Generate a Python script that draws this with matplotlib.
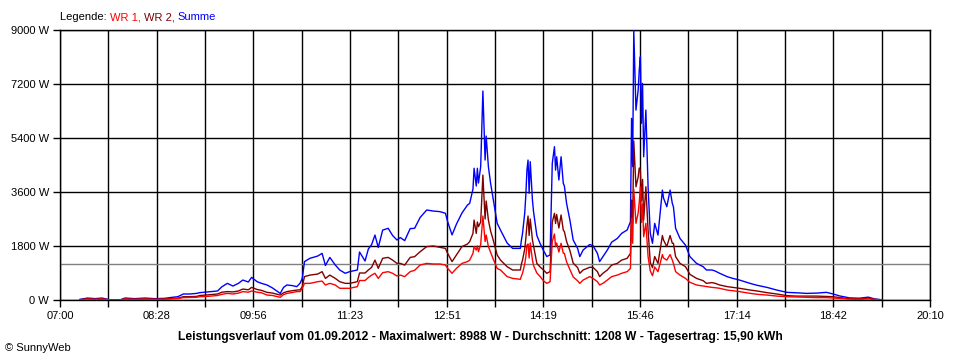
import matplotlib
matplotlib.use('Agg')
import matplotlib.pyplot as plt

# ── Daten ──
zeit = ['07:18', '07:25', '07:32', '07:38', '07:45', '07:55', '07:59', '08:08', '08:17', '08:26',
        '08:35', '08:42', '08:47', '08:52', '08:58', '09:04', '09:07', '09:14', '09:23', '09:27',
        '09:32', '09:37', '09:42', '09:46', '09:51', '09:54', '09:59', '10:03', '10:08', '10:13',
        '10:20', '10:23', '10:26', '10:31', '10:35', '10:38', '10:40', '10:42', '10:47', '10:54',
        '10:58', '11:01', '11:05', '11:10', '11:14', '11:19', '11:23', '11:30', '11:32', '11:37',
        '11:40', '11:43', '11:46', '11:49', '11:53', '11:58', '12:02', '12:06', '12:09', '12:13',
        '12:18', '12:22', '12:27', '12:33', '12:39', '12:45', '12:50', '12:52', '12:56', '13:00',
        '13:05', '13:10', '13:12', '13:15', '13:16', '13:18', '13:19', '13:20', '13:22', '13:24',
        '13:26', '13:27', '13:29', '13:31', '13:33', '13:37', '13:40', '13:46', '13:51', '13:58',
        '13:59', '14:00', '14:02', '14:03', '14:04', '14:05', '14:06', '14:07', '14:09', '14:10',
        '14:13', '14:16', '14:19', '14:22', '14:25', '14:27', '14:29', '14:30', '14:31', '14:33',
        '14:35', '14:37', '14:38', '14:40', '14:43', '14:46', '14:50', '14:52', '14:55', '15:01',
        '15:04', '15:08', '15:10', '15:13', '15:17', '15:21', '15:26', '15:30', '15:35', '15:38',
        '15:39', '15:40', '15:41', '15:43', '15:45', '15:46', '15:47', '15:48', '15:49', '15:50',
        '15:52', '15:54', '15:56', '15:58', '16:00', '16:03', '16:07', '16:08', '16:11', '16:14',
        '16:16', '16:17', '16:19', '16:23', '16:28', '16:32', '16:38', '16:44', '16:47', '16:52',
        '16:55', '16:59', '17:06', '17:11', '17:17', '17:27', '17:33', '17:42', '17:51', '18:00',
        '18:09', '18:18', '18:27', '18:36', '18:42', '18:48', '18:57', '19:06', '19:14', '19:20',
        '19:26']

summe = [20, 65, 45, 65, 10, 10, 65, 45, 65, 45,
         55, 90, 110, 200, 200, 220, 245, 270, 300, 440,
         555, 465, 555, 665, 600, 755, 610, 555, 500, 400,
         220, 420, 500, 480, 445, 560, 720, 1280, 1390, 1465,
         1555, 1150, 1420, 1165, 1000, 890, 945, 1000, 1600, 1300,
         1700, 1850, 2165, 1750, 2330, 2390, 2150, 2000, 2080, 1980,
         2380, 2390, 2750, 3000, 2965, 2945, 2890, 2610, 2170, 2530,
         2900, 3165, 3220, 3700, 4390, 3800, 4390, 3900, 4445, 6965,
         4665, 5465, 4445, 3890, 3445, 2555, 2330, 1900, 1720, 1720,
         2000, 2220, 2900, 3500, 4330, 4665, 3555, 4610, 3330, 2945,
         2150, 1880, 1650, 1450, 1500, 4555, 5110, 4330, 4775, 4000,
         4775, 3890, 3800, 3220, 2665, 2000, 1720, 1445, 1665, 1850,
         1810, 1555, 1280, 1445, 1665, 1930, 2050, 2220, 2335, 2610,
         6055, 4445, 8988, 6330, 7000, 7665, 8110, 5890, 7220, 4775,
         6330, 3775, 2220, 1890, 2555, 2165, 3665, 3400, 3110, 3665,
         3220, 3110, 2390, 2050, 1830, 1445, 1220, 1110, 1000, 1000,
         965, 890, 775, 720, 665, 550, 490, 420, 330, 255,
         240, 220, 230, 255, 200, 135, 70, 60, 95, 33,
         10]

wr2 = [10, 35, 25, 35, 5, 5, 35, 25, 35, 25,
       30, 50, 60, 110, 110, 120, 150, 170, 200, 260,
       280, 270, 300, 365, 340, 420, 350, 320, 255, 230,
       165, 240, 280, 310, 330, 340, 445, 780, 830, 865,
       945, 720, 830, 720, 610, 555, 555, 610, 900, 900,
       1000, 1090, 1330, 1055, 1390, 1420, 1330, 1220, 1220, 1165,
       1420, 1445, 1610, 1780, 1800, 1755, 1720, 1555, 1280, 1500,
       1780, 1865, 1945, 2220, 2665, 2220, 2600, 2445, 2600, 4165,
       2700, 3300, 2665, 2300, 2050, 1500, 1330, 1110, 1000, 1000,
       1200, 1330, 1700, 2055, 2500, 2800, 2150, 2700, 2000, 1800,
       1220, 1100, 1000, 890, 945, 2600, 2890, 2550, 2850, 2400,
       2835, 2330, 2280, 1950, 1650, 1230, 1080, 890, 1000, 1090,
       1090, 945, 780, 890, 1000, 1165, 1220, 1330, 1390, 1555,
       3330, 2555, 5300, 3775, 4100, 4400, 4335, 3300, 4020, 2665,
       3775, 2330, 1250, 1080, 1450, 1220, 2150, 2000, 1780, 2150,
       1890, 1890, 1445, 1220, 1110, 855, 720, 645, 555, 580,
       555, 500, 445, 420, 390, 330, 300, 245, 200, 145,
       130, 130, 130, 120, 110, 80, 40, 35, 55, 20,
       5]

wr1 = [10, 30, 20, 30, 5, 5, 30, 20, 30, 20,
       25, 40, 45, 80, 85, 90, 110, 120, 150, 190,
       220, 200, 230, 280, 260, 300, 260, 240, 165, 150,
       90, 180, 220, 250, 280, 280, 390, 555, 555, 610,
       630, 500, 555, 500, 390, 390, 390, 445, 650, 650,
       750, 830, 890, 720, 910, 945, 890, 800, 830, 780,
       945, 990, 1165, 1220, 1200, 1200, 1165, 1055, 890, 1055,
       1220, 1280, 1330, 1555, 1780, 1665, 1800, 1610, 1850, 2800,
       1950, 2165, 1780, 1590, 1400, 1050, 1000, 780, 720, 690,
       800, 890, 1200, 1445, 1830, 1865, 1400, 1900, 1330, 1150,
       900, 780, 640, 555, 610, 1950, 2200, 1780, 1900, 1600,
       1890, 1560, 1555, 1270, 1015, 770, 640, 555, 665, 780,
       720, 610, 500, 555, 665, 780, 830, 890, 945, 1055,
       2725, 1890, 3688, 2555, 2900, 3265, 3775, 2590, 3200, 2110,
       2555, 1445, 970, 810, 1100, 945, 1515, 1400, 1330, 1515,
       1330, 1220, 945, 830, 720, 590, 500, 465, 445, 420,
       410, 390, 330, 310, 280, 220, 190, 165, 130, 110,
       100, 90, 80, 80, 65, 55, 30, 25, 40, 15,
       5]

x_labels = ['07:00', '08:28', '09:56', '11:23', '12:51', '14:19', '15:46', '17:14', '18:42', '20:10']
y_ticks = [0, 1800, 3600, 5400, 7200, 9000]
durchschnitt = 1208
titel = ('Leistungsverlauf vom 01.09.2012 - Maximalwert: 8988 W - '
         'Durchschnitt: 1208 W - Tagesertrag: 15,90 kWh')


def minuten(s):
    h, m = s.split(':')
    return (int(h) - 7) * 60 + int(m)


x = [minuten(t) for t in zeit]
x_end = 790
x_ticks = [i * x_end / 18 for i in range(19)]
x_tick_labels = []
for i in range(19):
    x_tick_labels.append(x_labels[i // 2] if i % 2 == 0 else '')

plt.rcParams['font.family'] = ['Liberation Sans', 'DejaVu Sans']

fig = plt.figure(figsize=(9.6, 3.6), dpi=100)
ax = fig.add_axes([60 / 960, 60 / 360, 870 / 960, 270 / 360])

ax.axhline(durchschnitt, color='#808080', lw=1.0, zorder=2)
ax.plot(x, summe, color='#0000ff', lw=1.0, zorder=3)
ax.plot(x, wr2, color='#800000', lw=1.0, zorder=4)
ax.plot(x, wr1, color='#ff0000', lw=1.0, zorder=5)

ax.set_xlim(0, x_end)
ax.set_ylim(0, 9000)
ax.set_xticks(x_ticks)
ax.set_xticklabels(x_tick_labels)
ax.set_yticks(y_ticks)
ax.set_yticklabels([f'{v} W' for v in y_ticks])
ax.grid(True, color='black', lw=1.0)
ax.set_axisbelow(True)
ax.tick_params(direction='out', length=5, width=1.0, color='black', labelsize=8, pad=3)
for s in ax.spines.values():
    s.set_color('black')
    s.set_linewidth(1.0)

fig.text(480 / 960, 1 - 337 / 360, titel, ha='center', va='center', fontsize=8.75, fontweight='bold')
fig.text(5 / 960, 1 - 348 / 360, '© SunnyWeb', ha='left', va='center', fontsize=8)

# Legende oben links
t0 = fig.text(60 / 960, 1 - 17 / 360, 'Legende: ', ha='left', va='center', fontsize=8, color='black')
prev = t0
for txt, col in [('WR 1, ', '#ff0000'), ('WR 2, ', '#800000'), ('Summe', '#0000ff')]:
    prev = ax.annotate(txt, xy=(1, 0), xycoords=prev, ha='left', va='bottom',
                       fontsize=8, color=col, annotation_clip=False)

fig.savefig('out.png', dpi=100)
